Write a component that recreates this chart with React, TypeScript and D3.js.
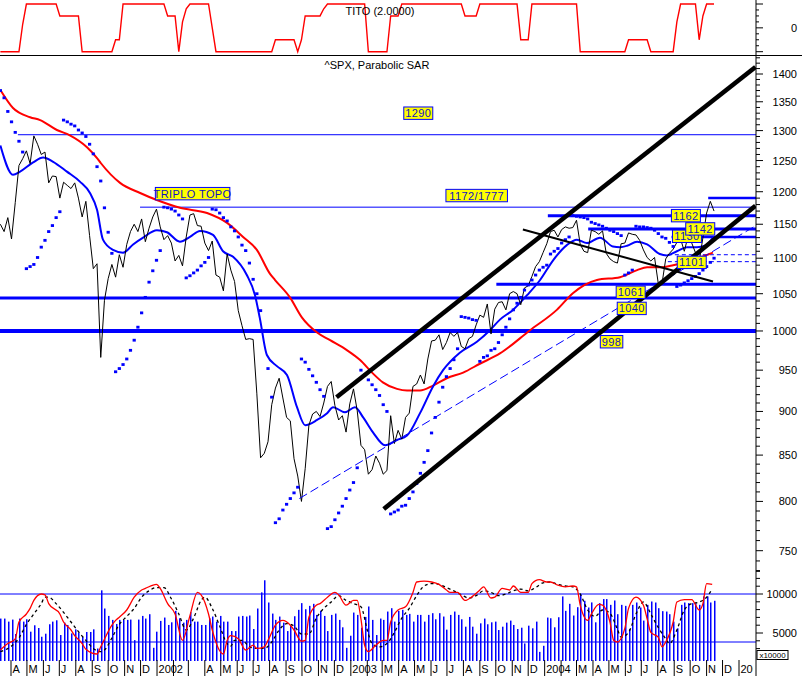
import React from "react";
import * as d3 from "d3";

// ---------- DATA ----------
const weeks = d3.timeMonday.range(new Date(2001, 2, 12), new Date(2004, 10, 16)); // 193 weekly bars

const closes = [
  1150, 1139, 1160, 1128, 1183, 1242, 1253, 1266, 1245, 1291, 1277, 1260, 1264, 1214, 1225, 1224, 1190, 1215, 1210, 1205,
  1214, 1190, 1161, 1185, 1133, 1085, 1092, 966, 1041, 1071, 1091, 1073, 1105, 1087, 1120, 1139, 1150, 1139, 1158, 1124,
  1144, 1161, 1173,
  1146, 1127, 1133, 1122, 1096, 1104, 1089, 1131, 1164, 1166, 1148, 1147, 1122, 1111, 1125, 1076, 1073, 1054, 1106, 1083,
  1067, 1027, 1007, 989, 990, 989, 921, 847, 852, 865, 908, 928, 940, 916, 893, 889, 846, 827, 800, 835, 884, 897, 900,
  894, 910, 930, 936, 907, 890, 895, 876, 909,
  927, 901, 861, 856, 829, 834, 849, 841, 829, 833, 895, 863, 878, 868, 893, 898, 930, 933, 944, 933, 964, 987, 988,
  995, 976, 985, 998, 993, 998, 980, 977, 990, 993, 1008, 1021, 1018, 1036, 996, 1029, 1038, 1039, 1028, 1050, 1053,
  1050, 1035, 1058, 1061, 1074, 1088, 1095, 1108,
  1121, 1139, 1141, 1131, 1142, 1146, 1144, 1145, 1156, 1120, 1110, 1108, 1141, 1139, 1135, 1140, 1107, 1099, 1095,
  1093, 1121, 1122, 1137, 1135, 1134, 1126, 1112, 1101, 1096, 1101, 1064, 1064, 1099, 1107, 1113, 1123, 1128, 1110,
  1132, 1122, 1108, 1095, 1130, 1167, 1185, 1170,
];

const volumes = [
  6850, 6850, 6460, 6720, 4870, 6850, 6460, 6760, 5170, 5990,
  5640, 4520, 4910, 6120, 6460, 6630, 4740, 6330, 6030, 4950,
  5470, 5040, 4520, 5130, 5130, 5470, 3010, 10470, 8140, 7190,
  6680, 6160, 6680, 6680, 6680, 6720, 4090, 6720, 7190, 6850,
  7410, 3100, 5170, 6550, 6980, 6030, 6370, 7840, 6890, 6330,
  6680, 7670, 6460, 6460, 6030, 6030, 6890, 7110, 6460, 7190,
  6460, 6460, 5250, 5250, 7110, 7190, 7110, 7240, 5510, 8140,
  10210, 11760, 8910, 7490, 6680, 7110, 6330, 5250, 6030, 7150,
  7970, 8830, 8050, 8480, 8740, 7320, 7840, 7190, 5250, 7320,
  7490, 6680, 5730, 3100, 4650, 7620, 7320, 5680, 7060, 8400,
  6680, 4740, 6850, 6680, 7750, 8180, 6460, 7840, 7970, 7320,
  7450, 6460, 7320, 7320, 6460, 7320, 7540, 6760, 7540, 7110,
  5430, 7320, 7750, 7320, 6760, 5810, 7060, 5810, 4910, 6240,
  6850, 6120, 6370, 6460, 5380, 5810, 6330, 6590, 6030, 5510,
  5680, 3660, 5940, 5600, 6460, 2580, 3360, 6980, 6890, 5730,
  7020, 9690, 7840, 8740, 7240, 8310, 9990, 9130, 8270, 8920,
  6370, 8830, 9350, 9350, 8610, 9170, 7410, 8610, 8480, 5510,
  8610, 8910, 8270, 6590, 8610, 9040, 8910, 8180, 7800, 7750,
  7410, 6460, 5600, 8610, 8910, 8830, 8830, 8830, 8610, 9690,
  9690, 8910, 9130,
];

// moving averages: [week index, price]
const blueMA: [number, number][] = [
  [0, 1275], [3.4, 1227], [5.3, 1232], [8.8, 1247], [11.5, 1255], [14.2, 1248], [17.9, 1232], [21.4, 1216],
  [24.1, 1198], [26, 1172], [27.6, 1127], [30.3, 1112], [33, 1108], [35.7, 1120], [38.4, 1130], [42.1, 1141],
  [44.8, 1138], [48.3, 1124], [51, 1131], [53.7, 1140], [57.2, 1134], [59.9, 1110], [62.6, 1102], [66.3, 1076],
  [68.5, 1048], [69.8, 1017], [71.7, 969], [74.4, 955], [77.1, 944], [79.8, 905], [82, 884], [85.2, 890],
  [87.9, 898], [89.5, 905], [92.7, 899], [95.4, 905], [97.6, 893], [100.2, 876], [103.5, 861], [106.7, 867],
  [109.4, 872], [112.9, 898], [116.4, 930], [119.1, 950], [123.6, 972], [128.2, 986], [131.7, 1001], [134.4, 1015],
  [137.9, 1028], [141.7, 1048], [145.2, 1069], [148.7, 1097], [152.4, 1119], [155.1, 1127], [157.8, 1122],
  [161.3, 1130], [164.8, 1117], [166.7, 1116], [168.6, 1118], [171.3, 1124], [174, 1120], [177.4, 1106],
  [179.3, 1104], [182, 1110], [184.7, 1116], [187.4, 1116], [189.6, 1118], [191.7, 1130],
];

const redMA: [number, number][] = [
  [0, 1371], [3.4, 1339], [8, 1323], [10.7, 1318], [15.2, 1301], [18.7, 1292], [23.3, 1272], [26, 1254],
  [27, 1246], [32.2, 1214], [37.6, 1198], [42.1, 1187], [48.3, 1175], [55.6, 1167], [61, 1152], [65.3, 1131],
  [69, 1112], [72.5, 1078], [73.9, 1069], [77.9, 1045], [81.1, 1018], [85.2, 998], [88.7, 988], [93.3, 975],
  [96.7, 963], [100.2, 946], [102.9, 935], [106.7, 927], [109.4, 925], [112.9, 925], [116.4, 931], [120.1, 940],
  [124.5, 947], [129, 958], [134.4, 971], [142.5, 1001], [149.7, 1028], [154.1, 1051], [160.5, 1069],
  [166.7, 1073], [171.3, 1083], [174, 1087], [177.4, 1087], [181, 1090], [184.7, 1095], [188.2, 1101], [191.7, 1108],
];

// parabolic SAR runs: first week index of each run, and the run's values
const sarStarts = [0, 7, 17, 31, 44, 50, 57, 74, 81, 88, 97, 105, 124, 129, 154, 168, 171, 182];
const sarValues: number[][] = [
  [1370, 1357, 1333, 1315, 1297, 1282, 1264],
  [1085, 1088, 1091, 1101, 1116, 1126, 1139, 1148, 1160, 1169],
  [1318, 1315, 1311, 1308, 1301, 1296, 1290, 1277, 1261, 1240, 1217, 1175, 1138, 1107],
  [948, 952, 957, 964, 975, 988, 1005, 1024, 1045, 1066, 1082, 1097, 1111],
  [1176, 1175, 1173, 1170, 1164, 1158],
  [1072, 1075, 1079, 1083, 1089, 1094, 1101],
  [1173, 1172, 1167, 1160, 1155, 1146, 1140, 1131, 1119, 1111, 1093, 1070, 1050, 1027, 1000, 952, 917],
  [778, 782, 791, 797, 803, 809, 815],
  [964, 960, 951, 943, 935, 926, 918],
  [772, 774, 781, 788, 795, 803, 812, 820, 836],
  [950, 944, 938, 932, 926, 919, 908, 900],
  [787, 789, 791, 795, 796, 803, 810, 819, 830, 842, 855, 875, 893, 911, 929, 942, 952, 963, 977],
  [1019, 1018, 1017, 1015, 1014],
  [961, 966, 968, 975, 977, 985, 995, 1005, 1016, 1028, 1037, 1045, 1055, 1062, 1069, 1076, 1083, 1087, 1090,
    1106, 1110, 1114, 1122, 1127, 1131],
  [1163, 1162, 1161, 1160, 1158, 1153, 1151, 1149, 1147, 1144, 1141, 1139, 1136, 1133],
  [1076, 1079, 1083],
  [1147, 1146, 1146, 1145, 1144, 1141, 1136, 1131, 1129, 1123, 1117],
  [1060, 1062, 1065, 1068, 1071, 1074, 1078, 1083, 1088, 1094, 1100],
];

// stochastic %K (red) and %D (black dashed): [week index, value]
const stochK: [number, number][] = [
  [0, 10], [2, 18], [4, 24], [5, 45], [7, 55], [8, 62], [9, 72], [11, 80], [12, 79], [13, 68], [16, 55], [17, 45],
  [19, 35], [20, 28], [22, 18], [23, 11], [26, 5], [27, 14], [30, 41], [31, 47], [32, 51], [34, 60], [36, 76],
  [38, 85], [39, 87], [42, 92], [43, 87], [45, 68], [47, 55], [49, 22], [51, 53], [53, 82], [54, 79], [56, 55],
  [57, 35], [60, 5], [61, 22], [62, 28], [64, 24], [66, 10], [68, 16], [69, 12], [71, 14], [72, 22], [74, 41],
  [76, 47], [78, 41], [79, 35], [81, 21], [82, 22], [83, 51], [85, 66], [86, 68], [88, 76], [90, 82], [91, 79],
  [93, 66], [95, 72], [96, 72], [97, 49], [98, 16], [99, 8], [101, 16], [103, 22], [104, 22], [105, 45], [107, 60],
  [109, 64], [111, 82], [112, 95], [114, 96], [116, 95], [118, 92], [120, 85], [121, 82], [123, 82], [125, 72],
  [127, 77], [129, 85], [130, 89], [132, 75], [133, 76], [135, 87], [137, 85], [138, 90], [140, 82], [142, 82],
  [143, 93], [145, 98], [147, 95], [148, 95], [150, 91], [152, 89], [154, 90], [155, 89], [156, 66], [158, 47],
  [159, 55], [161, 67], [162, 66], [164, 45], [165, 22], [166, 20], [168, 37], [169, 62], [171, 76], [173, 66],
  [174, 49], [175, 32], [177, 26], [178, 14], [179, 20], [181, 45], [182, 70], [184, 73], [186, 73], [188, 60],
  [189, 68], [190, 93], [191.5, 92],
];
const stochD: [number, number][] = [
  [0, 8], [3, 15], [5, 25], [7, 42], [9, 55], [11, 68], [12, 76], [13, 76], [15, 68], [17, 57], [19, 45], [21, 33],
  [23, 22], [25, 12], [27, 8], [28, 10], [30, 25], [32, 42], [34, 52], [36, 62], [38, 76], [40, 84], [42, 88],
  [44, 88], [46, 74], [48, 55], [50, 35], [52, 50], [54, 72], [55, 76], [57, 62], [59, 40], [61, 18], [62, 15],
  [63, 22], [65, 22], [67, 14], [69, 12], [71, 12], [73, 20], [75, 35], [77, 43], [79, 40], [81, 30], [83, 30],
  [85, 50], [87, 62], [89, 70], [91, 78], [93, 72], [95, 68], [97, 64], [99, 30], [100, 18], [102, 14], [104, 18],
  [106, 32], [108, 50], [110, 62], [112, 78], [114, 90], [116, 93], [118, 92], [120, 88], [122, 84], [124, 79],
  [126, 75], [128, 78], [130, 84], [132, 82], [134, 78], [136, 80], [138, 84], [140, 86], [142, 84], [144, 88],
  [146, 94], [148, 95], [150, 92], [152, 90], [154, 89], [156, 80], [158, 60], [160, 52], [162, 60], [164, 56],
  [166, 36], [167, 26], [169, 32], [171, 55], [173, 70], [175, 55], [177, 38], [179, 24], [180, 18], [182, 35],
  [184, 60], [186, 68], [188, 70], [190, 76], [191.5, 86],
];

// TITO indicator: [week index, value]
const tito: [number, number][] = [
  [0, -2], [5, -2], [6, 0.3], [7, 2], [15, 2], [16, 1], [21, 1], [22, -2], [30, -2], [31, -1], [32, -1], [33, 2],
  [44, 2], [45, 1], [47, 1], [48, -2], [49, 0.5], [50, 1.6], [51, 2], [56, 2], [57, 0], [58, -2], [73, -2], [74, -1],
  [79, -1], [80, -2], [81, -1], [82, 1], [86, 1], [87, 1.6], [88, 2], [98, 2], [99, -2], [104, -2], [105, 1],
  [107, 1], [108, 2], [124, 2], [125, 1], [128, 1], [129, 2], [139, 2], [140, -1], [142, -1], [143, 2], [155, 2],
  [156, -2], [168, -2], [169, -1], [174, -1], [175, -2], [181, -2], [182, 0.5], [183, 2], [187, 2], [188, -1],
  [189, 1], [190, 2], [192, 2],
];

// support / resistance levels: [price, start date or "" for full width]
const thinLevels: [number, string][] = [[1293, "2001-04-14"], [1176, "2001-11-30"]];
const thickLevels: [number, string, number][] = [
  [1190, "2004-11-04", 2.5], [1163, "2004-01-07", 3], [1143, "2004-03-23", 3], [1131, "2004-08-27", 2.5],
  [1063, "2003-10-02", 3], [1044, "", 3], [1000, "", 4],
];
const dashedLevels: [number, string][] = [[1105, "2004-08-20"], [1095, "2004-08-20"]];

// trend lines: [startDate, startPrice, endDate, endPrice]
const channelLines: [string, number, string, number][] = [
  ["2002-12-05", 917, "2005-02-01", 1413],
  ["2003-03-04", 792, "2005-02-01", 1178],
];
const declineLine: [string, number, string, number] = ["2003-11-21", 1142, "2004-11-13", 1067];
const dashedTrend: [string, number, string, number] = ["2002-09-26", 803, "2005-02-02", 1148];

// yellow annotation labels: [text, date, price]
const notes: [string, string, number][] = [
  ["1290", "2003-05-08", 1330], ["1172/1777", "2003-08-26", 1194], ["TRIPLO TOPO", "2002-03-09", 1197],
  ["1162", "2004-09-23", 1163], ["1130", "2004-09-25", 1132], ["1142", "2004-10-20", 1143],
  ["1101", "2004-10-04", 1094], ["1061", "2004-06-11", 1052], ["1040", "2004-06-13", 1030], ["998", "2004-05-06", 986],
];

const monthLabels = [
  "A", "M", "J", "J", "A", "S", "O", "N", "D",
  "2002", "", "", "A", "M", "J", "J", "A", "S", "O", "N", "D",
  "2003", "", "M", "A", "M", "J", "J", "A", "S", "O", "N", "D",
  "2004", "", "M", "A", "M", "J", "J", "A", "S", "O", "N", "D",
  "2005",
];

// ---------- CHART ----------
const FONT = "'Liberation Sans', Arial, sans-serif";
const BLUE = "#0000ff";

export default function App() {
  const W = 802, H = 676, AX = 756;
  const pd = (s: string) => new Date(s + "T00:00:00");
  const x = d3.scaleTime().domain([new Date(2001, 3, 1), new Date(2005, 0, 1)]).range([11, 739]);
  const xi = d3.scaleLinear().domain([0, weeks.length - 1]).range([x(weeks[0]), x(weeks[weeks.length - 1])]);
  const yP = d3.scaleLog().domain([750, 1400]).range([550.7, 74]);
  const yV = d3.scaleLinear().domain([0, 10000]).range([672, 594]);
  const yS = d3.scaleLinear().domain([20, 80]).range([642, 594]);
  const yT = d3.scaleLinear().domain([-2, 2]).range([51.7, 4]);

  const pLine = d3.line<[number, number]>().x((d) => xi(d[0])).y((d) => yP(d[1]));
  const pSmooth = d3.line<[number, number]>().x((d) => xi(d[0])).y((d) => yP(d[1])).curve(d3.curveMonotoneX);
  const sLine = d3.line<[number, number]>().x((d) => xi(d[0])).y((d) => yS(d[1])).curve(d3.curveMonotoneX);
  const tLine = d3.line<[number, number]>().x((d) => xi(d[0])).y((d) => yT(d[1]));

  const closePts: [number, number][] = closes.map((c, i) => [i, c]);
  const sarPts: [number, number][] = [];
  sarStarts.forEach((s, k) => sarValues[k].forEach((v, j) => sarPts.push([s + j, v])));

  const months = d3.timeMonth.range(new Date(2001, 3, 1), new Date(2005, 0, 2));
  const priceTicks = d3.range(730, 1431, 10);
  const volTicks = d3.range(3000, 13001, 1000);

  const seg = (l: [string, number, string, number]) => ({
    x1: x(pd(l[0])), y1: yP(l[1]), x2: x(pd(l[2])), y2: yP(l[3]),
  });

  return (
    <div>
      <style>{"body{margin:0;background:#fff}"}</style>
      <svg width={W} height={H} style={{ display: "block", background: "#fff" }} fontFamily={FONT}>
        <defs>
          <clipPath id="cp-price"><rect x={0} y={56} width={AX} height={605} /></clipPath>
          <clipPath id="cp-vol"><rect x={0} y={560} width={AX} height={101} /></clipPath>
          <clipPath id="cp-tito"><rect x={0} y={0} width={AX} height={55} /></clipPath>
          <clipPath id="cp-xaxis"><rect x={0} y={655} width={753} height={21} /></clipPath>
        </defs>

        {/* ---- TITO panel ---- */}
        <g clipPath="url(#cp-tito)">
          <path d={tLine(tito) || ""} fill="none" stroke="#ff0000" strokeWidth={1.4} />
        </g>
        <text x={380} y={14.5} fontSize={11} textAnchor="middle" fill="#000">TITO (2.0000)</text>
        {[2, 0, -2].map((v) => (
          <line key={v} x1={AX} x2={AX + 7} y1={yT(v)} y2={yT(v)} stroke="#000" />
        ))}
        {[1.5, 1, 0.5, -0.5, -1, -1.5].map((v) => (
          <line key={v} x1={AX} x2={AX + 3} y1={yT(v)} y2={yT(v)} stroke="#000" />
        ))}
        <text x={797} y={yT(0) + 4} fontSize={11} textAnchor="end" fill="#000">0</text>
        <line x1={0} x2={W} y1={55.5} y2={55.5} stroke="#000" strokeWidth={1.2} />

        {/* ---- price panel ---- */}
        <text x={377} y={69} fontSize={11} textAnchor="middle" fill="#000">^SPX, Parabolic SAR</text>
        <g clipPath="url(#cp-price)">
          {thinLevels.map(([p, s]) => (
            <line key={"t" + p} x1={s ? x(pd(s)) : 0} x2={AX} y1={yP(p)} y2={yP(p)} stroke={BLUE} strokeWidth={1} />
          ))}
          {dashedLevels.map(([p, s]) => (
            <line key={"d" + p} x1={x(pd(s))} x2={AX} y1={yP(p)} y2={yP(p)} stroke={BLUE} strokeWidth={1} strokeDasharray="4,3" />
          ))}
          {thickLevels.map(([p, s, w]) => (
            <line key={"k" + p} x1={s ? x(pd(s)) : 0} x2={AX} y1={yP(p)} y2={yP(p)} stroke={BLUE} strokeWidth={w} />
          ))}
          <path d={pSmooth(redMA) || ""} fill="none" stroke="#ff0000" strokeWidth={2} />
          <path d={pSmooth(blueMA) || ""} fill="none" stroke={BLUE} strokeWidth={2} />
          <path d={pLine(closePts) || ""} fill="none" stroke="#000" strokeWidth={1} />
          {sarPts.map(([i, v]) => (
            <rect key={"s" + i} x={xi(i) - 1.6} y={yP(v) - 1.4} width={3.2} height={2.8} fill={BLUE} />
          ))}
          {(() => {
            const s = seg(dashedTrend);
            return <line {...s} stroke={BLUE} strokeWidth={1} strokeDasharray="9,4" />;
          })()}
          {(() => {
            const s = seg(declineLine);
            return <line {...s} stroke="#000" strokeWidth={2} />;
          })()}
          {channelLines.map((l, k) => (
            <line key={"c" + k} {...seg(l)} stroke="#000" strokeWidth={4.5} />
          ))}
          {notes.map(([t, d, p]) => {
            const cx = x(pd(d));
            const cy = yP(p);
            const w = t.length * 6.5 + 3;
            return (
              <g key={t}>
                <rect x={cx - w / 2} y={cy - 6.2} width={w} height={12.4} fill="#ffff00" stroke={BLUE} strokeWidth={1} />
                <text x={cx} y={cy + 4} fontSize={11} textAnchor="middle" fill="#1010c0" letterSpacing={0.4}>{t}</text>
              </g>
            );
          })}
        </g>

        {/* price axis */}
        {priceTicks.map((p) => {
          const major = p % 50 === 0 && p >= 750 && p <= 1400;
          const y = yP(p);
          return (
            <g key={"pt" + p}>
              <line x1={AX} x2={AX + (major ? 7 : 4)} y1={y} y2={y} stroke="#000" />
              {major && (
                <text x={797} y={y + 4} fontSize={11} textAnchor="end" fill="#000">{p}</text>
              )}
            </g>
          );
        })}

        {/* ---- volume / stochastic panel ---- */}
        <g clipPath="url(#cp-vol)">
          {volumes.map((v, i) => (
            <rect key={"v" + i} x={Math.round(xi(i))} y={yV(v)} width={1.5} height={661 - yV(v)} fill={BLUE} />
          ))}
          <line x1={0} x2={AX} y1={yS(80)} y2={yS(80)} stroke={BLUE} strokeWidth={1} />
          <line x1={0} x2={AX} y1={yS(20)} y2={yS(20)} stroke={BLUE} strokeWidth={1} />
          <path d={sLine(stochD) || ""} fill="none" stroke="#000" strokeWidth={1.3} strokeDasharray="3,3" />
          <path d={sLine(stochK) || ""} fill="none" stroke="#ff0000" strokeWidth={1.3} />
        </g>
        {volTicks.map((v) => {
          const major = v === 5000 || v === 10000;
          const y = yV(v);
          return (
            <g key={"vt" + v}>
              <line x1={AX} x2={AX + (major ? 7 : 4)} y1={y} y2={y} stroke="#000" />
              {major && (
                <text x={797} y={y + 4} fontSize={11} textAnchor="end" fill="#000">{v}</text>
              )}
            </g>
          );
        })}
        <rect x={757} y={650.5} width={31} height={9} fill="#fff" stroke="#000" strokeWidth={1} />
        <text x={772.5} y={658.3} fontSize={8} textAnchor="middle" fill="#000">x10000</text>

        {/* ---- time axis ---- */}
        <g clipPath="url(#cp-xaxis)">
          {months.map((m, k) => (
            <g key={"m" + k}>
              <line x1={x(m)} x2={x(m)} y1={660} y2={676} stroke="#000" strokeWidth={1} />
              {monthLabels[k] && (
                <text x={x(m) + 1.5} y={673} fontSize={11} fill="#000">{monthLabels[k]}</text>
              )}
            </g>
          ))}
        </g>

        <line x1={AX} x2={AX} y1={0} y2={H} stroke="#000" strokeWidth={1} />
      </svg>
    </div>
  );
}
